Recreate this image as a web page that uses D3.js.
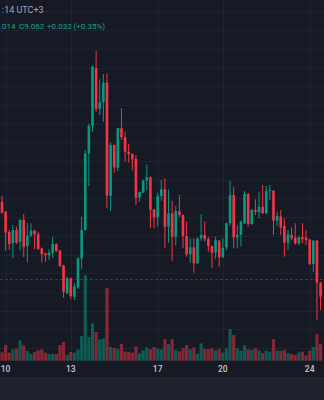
<!DOCTYPE html>
<html><head><meta charset="utf-8">
<script src="https://cdn.jsdelivr.net/npm/d3@7/dist/d3.min.js"></script>
<style>html,body{margin:0;padding:0;background:#161a25;overflow:hidden}svg{display:block}</style>
</head><body>
<svg id="c" width="324" height="400"></svg>
<script>
const open=[9.966,9.859,9.642,9.521,9.663,9.538,9.770,9.492,9.602,9.656,9.620,9.467,9.414,9.393,9.414,9.513,9.442,9.286,8.986,9.147,8.950,9.050,9.360,9.663,10.483,10.775,11.393,10.960,11.029,11.239,10.030,10.572,10.330,10.751,10.655,10.501,10.476,10.425,10.009,10.062,10.190,10.227,9.884,9.797,10.027,10.098,9.698,9.842,9.591,9.866,9.824,9.599,9.403,9.478,9.307,9.574,9.610,9.567,9.492,9.420,9.549,9.371,9.478,9.735,10.037,9.585,9.610,9.735,10.048,9.727,9.877,9.856,9.912,9.842,10.080,10.084,9.763,9.806,9.706,9.527,9.610,9.581,9.521,9.585,9.581,9.561,9.299,9.549,9.099];
const high=[10.030,9.866,9.663,9.717,9.698,9.781,9.834,9.738,9.735,9.668,9.645,9.476,9.417,9.457,9.591,9.521,9.449,9.289,9.164,9.155,9.093,9.374,9.805,10.519,10.804,11.417,11.578,11.275,11.332,11.339,10.601,10.578,10.754,10.965,10.714,10.583,10.482,10.465,10.075,10.203,10.364,10.235,9.887,10.062,10.198,10.216,10.098,9.976,9.923,10.037,9.829,9.752,9.574,9.574,9.581,9.831,9.752,9.591,9.498,9.591,9.556,9.574,9.743,10.190,10.128,9.717,9.765,10.080,10.059,9.888,9.991,10.073,10.144,10.134,10.144,10.091,9.859,9.877,9.788,9.663,9.692,9.735,9.594,9.735,9.663,9.567,9.556,9.556,9.106];
const low=[9.840,9.442,9.449,9.364,9.513,9.449,9.374,9.313,9.588,9.457,9.449,9.313,9.324,9.342,9.364,9.428,9.267,8.939,8.979,8.922,8.914,9.032,9.243,9.658,10.134,10.714,10.928,10.893,10.821,9.895,9.866,10.276,10.294,10.626,10.394,10.383,10.299,9.930,9.966,10.059,10.091,9.681,9.681,9.701,9.976,9.474,9.527,9.335,9.495,9.802,9.467,9.378,9.313,9.206,9.299,9.549,9.538,9.431,9.253,9.350,9.271,9.364,9.449,9.706,9.467,9.467,9.487,9.727,9.698,9.717,9.824,9.788,9.834,9.834,9.984,9.610,9.706,9.610,9.378,9.449,9.556,9.503,9.503,9.524,9.503,9.289,9.217,8.701,8.807];
const close=[9.848,9.634,9.513,9.663,9.527,9.770,9.481,9.602,9.656,9.617,9.460,9.406,9.393,9.420,9.513,9.439,9.278,9.003,9.147,8.957,9.057,9.360,9.663,10.483,10.775,11.410,10.960,11.029,11.239,10.030,10.572,10.334,10.751,10.655,10.501,10.476,10.419,10.009,10.070,10.190,10.227,9.877,9.797,10.027,10.098,9.698,9.842,9.591,9.866,9.824,9.599,9.403,9.478,9.307,9.574,9.610,9.564,9.492,9.420,9.556,9.371,9.474,9.735,10.037,9.585,9.610,9.752,10.048,9.727,9.877,9.856,9.912,9.842,10.080,10.091,9.765,9.813,9.692,9.527,9.620,9.574,9.521,9.585,9.564,9.556,9.299,9.549,9.099,8.950];
const volume=[250,470,240,340,360,610,460,290,200,260,310,340,240,200,200,200,470,560,170,260,240,340,740,2570,710,1120,860,640,670,2180,410,380,350,500,280,260,240,430,220,310,400,340,410,360,340,650,500,650,320,280,370,470,340,400,210,520,350,350,370,310,350,240,370,950,770,370,300,460,340,320,370,310,230,300,270,650,300,290,320,230,200,170,240,270,160,300,410,800,500];
const dayTickIndex=[1,19,43,61,85];
const dayTickLabels=["10","13","17","20","24"];
const gridPrices=[8.4,8.6,8.8,9.0,9.2,9.4,9.6,9.8,10.0,10.2,10.4,10.6,10.8,11.0,11.2,11.4,11.6,11.8,12.0];
const priceLine=9.136;
const headerText=":14 UTC+3";
const legendParts=[{t:".014",x:0},{t:"C9.062",x:19},{t:"+0.032",x:47},{t:"(+0.35%)",x:73.5}];

const UP="#089981", DOWN="#f23645";
const svg=d3.select("#c");
const W=324,H=400;
svg.append("rect").attr("width",W).attr("height",H).attr("fill","#161a25");

const x=d3.scaleLinear().domain([0,88]).range([2,2+3.62*88]);
const y=d3.scaleLinear().domain([9.2,11.2]).range([273.3,86.3]);
const vy=d3.scaleLinear().domain([0,3000]).range([360.7,260.7]);
const paneBottom=361;

// grid
const g=svg.append("g");
g.selectAll("line.h").data(gridPrices.filter(p=>y(p)>0&&y(p)<paneBottom)).join("line")
 .attr("x1",0).attr("x2",W).attr("y1",d=>Math.round(y(d))+0.5).attr("y2",d=>Math.round(y(d))+0.5)
 .attr("stroke","#1f2330").attr("stroke-width",1);
g.selectAll("line.v").data(dayTickIndex).join("line")
 .attr("x1",d=>Math.round(x(d))+0.5).attr("x2",d=>Math.round(x(d))+0.5).attr("y1",0).attr("y2",paneBottom)
 .attr("stroke","#1f2330").attr("stroke-width",1);

const idx=d3.range(open.length);
// volume
svg.append("g").selectAll("rect").data(idx).join("rect")
 .attr("x",i=>x(i)-1.6).attr("width",3.2)
 .attr("y",i=>vy(volume[i])).attr("height",i=>vy(0)-vy(volume[i]))
 .attr("fill",i=>close[i]>=open[i]?"rgba(8,153,129,0.5)":"rgba(242,54,69,0.5)");

// price line
svg.append("line").attr("x1",0).attr("x2",W).attr("y1",Math.round(y(priceLine))+0.5).attr("y2",Math.round(y(priceLine))+0.5)
 .attr("stroke",UP).attr("stroke-opacity",0.45).attr("stroke-dasharray","3,2").attr("stroke-width",1);

// candles
const cg=svg.append("g");
cg.selectAll("line").data(idx).join("line")
 .attr("x1",i=>x(i)).attr("x2",i=>x(i)).attr("y1",i=>y(high[i])).attr("y2",i=>y(low[i]))
 .attr("stroke",i=>close[i]>=open[i]?UP:DOWN).attr("stroke-width",1);
cg.selectAll("rect").data(idx).join("rect")
 .attr("x",i=>x(i)-1.3).attr("width",2.6)
 .attr("y",i=>y(Math.max(open[i],close[i])))
 .attr("height",i=>Math.max(1,Math.abs(y(open[i])-y(close[i]))))
 .attr("fill",i=>close[i]>=open[i]?UP:DOWN);

// time axis
svg.append("g").selectAll("text").data(dayTickIndex).join("text")
 .attr("x",d=>x(d)).attr("y",372).attr("text-anchor","middle")
 .attr("font-family","Roboto, sans-serif").attr("font-size",8.5).attr("font-weight",500)
 .attr("fill","#c3c6ce").text((d,i)=>dayTickLabels[i]);

// bottom strip
svg.append("rect").attr("x",0).attr("y",378).attr("width",W).attr("height",22).attr("fill","#1e222d");
svg.append("line").attr("x1",0).attr("x2",W).attr("y1",378.5).attr("y2",378.5).attr("stroke","#2a2e39");

// header & legend
svg.append("text").attr("x",2).attr("y",12.5).attr("font-family","Roboto, sans-serif").attr("font-size",9)
 .attr("fill","#a3a6af").text(headerText);
svg.append("g").selectAll("text").data(legendParts).join("text")
 .attr("x",d=>d.x).attr("y",29).attr("font-family","Roboto, sans-serif").attr("font-size",8)
 .attr("fill","#1fa38c").text(d=>d.t);
</script>
</body></html>
